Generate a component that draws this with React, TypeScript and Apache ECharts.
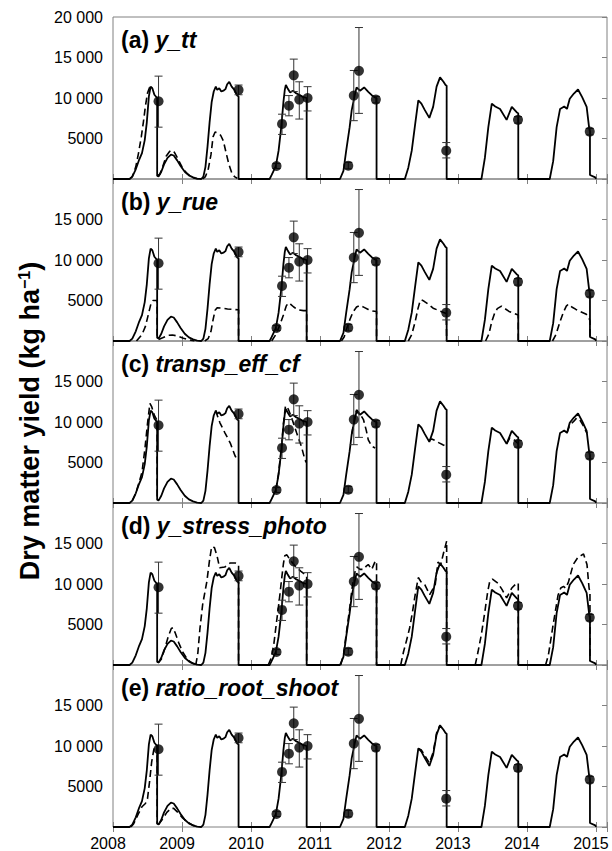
import React, { useEffect, useRef } from 'react';
import * as echarts from 'echarts';

type P = [number, number];

const FONT = '"Liberation Sans", Arial, Helvetica, sans-serif';
const FRAME = '#808080';

const X_MIN = 2008;
const X_MAX = 2015.16;
const Y_MAX = 20000;

const panelLetters = ['(a)', '(b)', '(c)', '(d)', '(e)'];
const panelNames = ['y_tt', 'y_rue', 'transp_eff_cf', 'y_stress_photo', 'ratio_root_shoot'];

// Observations (dry matter yield, kg/ha) with error bar limits
const obsYear = [2008.66, 2009.82, 2010.37, 2010.45, 2010.55, 2010.62, 2010.70, 2010.82, 2011.41, 2011.49, 2011.565, 2011.81, 2012.83, 2013.87, 2014.91];
const obsValue = [9600, 11000, 1600, 6800, 9050, 12800, 9800, 10000, 1650, 10300, 13350, 9800, 3500, 7300, 5850];
const obsLow = [6400, 10400, 1300, 5500, 7800, 10800, 7400, 8400, 1250, 7200, 8100, 9400, 2600, 6900, 5450];
const obsHigh = [12700, 11600, 1900, 8000, 10300, 14800, 12000, 11400, 2050, 13400, 18700, 10200, 4500, 7700, 6250];

// Baseline simulation (solid line)
const baseline: P[] = [
  [2008.00, 0], [2008.24, 0], [2008.28, 300], [2008.33, 1200], [2008.38, 2400], [2008.42, 3200], [2008.46, 4800], [2008.49, 7000], [2008.52, 10200], [2008.545, 11400], [2008.57, 11200], [2008.60, 10400], [2008.64, 10000], [2008.64, 400],
  [2008.66, 300], [2008.70, 900], [2008.74, 1800], [2008.79, 2600], [2008.84, 3000], [2008.88, 2900], [2008.93, 2300], [2008.98, 1600], [2009.04, 900], [2009.10, 450], [2009.16, 200], [2009.22, 50], [2009.28, 0],
  [2009.31, 300], [2009.34, 1500], [2009.37, 4000], [2009.40, 7000], [2009.43, 9500], [2009.46, 10800], [2009.49, 11400], [2009.51, 11000], [2009.54, 11200], [2009.57, 10800], [2009.60, 10900], [2009.63, 11100], [2009.655, 11700], [2009.685, 12000], [2009.72, 11400], [2009.76, 11000], [2009.80, 10300], [2009.82, 10200], [2009.82, 0],
  [2010.27, 0], [2010.30, 500], [2010.36, 1600], [2010.40, 3500], [2010.44, 6500], [2010.47, 9500], [2010.49, 11000], [2010.505, 11600], [2010.53, 11200], [2010.565, 10700], [2010.61, 10900], [2010.65, 10600], [2010.70, 10400], [2010.76, 10100], [2010.807, 10000], [2010.807, 0],
  [2011.29, 0], [2011.34, 1000], [2011.38, 3500], [2011.43, 6400], [2011.46, 8500], [2011.51, 10600], [2011.53, 11300], [2011.58, 10900], [2011.64, 11300], [2011.70, 10750], [2011.75, 10350], [2011.80, 10050], [2011.82, 10000], [2011.82, 0],
  [2012.23, 0], [2012.28, 1400], [2012.33, 3500], [2012.38, 6800], [2012.425, 9700], [2012.47, 9300], [2012.52, 8500], [2012.585, 7550], [2012.64, 8900], [2012.69, 11400], [2012.74, 12550], [2012.79, 12000], [2012.82, 11600], [2012.836, 11500], [2012.836, 0],
  [2013.34, 0], [2013.39, 2600], [2013.44, 6400], [2013.49, 9300], [2013.54, 8950], [2013.61, 8650], [2013.705, 7300], [2013.78, 8900], [2013.85, 8250], [2013.874, 8100], [2013.874, 0],
  [2014.33, 0], [2014.38, 2200], [2014.43, 6400], [2014.48, 8650], [2014.54, 8950], [2014.58, 8650], [2014.62, 9900], [2014.68, 10550], [2014.74, 11050], [2014.80, 10100], [2014.865, 8900], [2014.90, 6400], [2014.913, 5800], [2014.913, 500], [2014.99, 200], [2015.0, 0],
];

// Modified-parameter simulations (dashed), only where they depart from the baseline
const dashedA: P[][] = [
  [[2008.24, 0], [2008.28, 300], [2008.33, 1500], [2008.37, 3200], [2008.41, 5200], [2008.44, 7000], [2008.47, 9000], [2008.50, 10600], [2008.53, 11300], [2008.545, 11400]],
  [[2008.64, 400], [2008.68, 600], [2008.72, 1500], [2008.77, 2800], [2008.82, 3400], [2008.85, 3550], [2008.89, 3300], [2008.94, 2500], [2009.00, 1500], [2009.06, 800], [2009.12, 350], [2009.18, 100], [2009.24, 0]],
  [[2009.30, 0], [2009.34, 300], [2009.38, 1200], [2009.42, 3000], [2009.45, 5200], [2009.48, 5800], [2009.52, 5700], [2009.56, 5400], [2009.60, 4700], [2009.64, 3200], [2009.68, 1800], [2009.72, 800], [2009.76, 300], [2009.80, 100]],
];

const dashedB: P[][] = [
  [[2008.34, 0], [2008.42, 800], [2008.47, 1800], [2008.51, 3200], [2008.55, 4600], [2008.58, 5000], [2008.64, 5000], [2008.64, 300]],
  [[2008.66, 200], [2008.72, 400], [2008.80, 700], [2008.86, 750], [2008.94, 600], [2009.02, 350], [2009.10, 150], [2009.18, 0]],
  [[2009.33, 0], [2009.38, 300], [2009.42, 1200], [2009.45, 2600], [2009.48, 3800], [2009.51, 4100], [2009.58, 4050], [2009.66, 3950], [2009.74, 3900], [2009.82, 3850], [2009.82, 0]],
  [[2010.30, 0], [2010.36, 800], [2010.41, 1800], [2010.47, 3200], [2010.51, 4300], [2010.54, 4700], [2010.58, 4500], [2010.62, 4200], [2010.68, 3850], [2010.76, 3750], [2010.807, 3750], [2010.807, 0]],
  [[2011.31, 0], [2011.35, 500], [2011.39, 1600], [2011.44, 2800], [2011.48, 3600], [2011.53, 4200], [2011.58, 4400], [2011.64, 4150], [2011.70, 3900], [2011.76, 3700], [2011.82, 3650], [2011.82, 0]],
  [[2012.28, 0], [2012.33, 800], [2012.38, 2400], [2012.42, 4000], [2012.45, 4900], [2012.47, 5100], [2012.51, 4900], [2012.56, 4600], [2012.64, 4050], [2012.74, 3700], [2012.83, 3400], [2012.836, 0]],
  [[2013.40, 0], [2013.45, 900], [2013.49, 2400], [2013.53, 3400], [2013.57, 4000], [2013.63, 4300], [2013.68, 4000], [2013.74, 3650], [2013.80, 3450], [2013.874, 3200], [2013.874, 0]],
  [[2014.37, 0], [2014.42, 800], [2014.48, 2400], [2014.53, 3600], [2014.57, 4300], [2014.60, 4550], [2014.65, 4200], [2014.71, 3900], [2014.77, 3650], [2014.86, 3300], [2014.90, 2800], [2014.913, 2500], [2014.913, 300]],
];

const dashedC: P[][] = [
  [[2008.28, 300], [2008.33, 1200], [2008.38, 2600], [2008.42, 3800], [2008.46, 6500], [2008.50, 9800], [2008.535, 12300], [2008.56, 11900], [2008.60, 10800], [2008.64, 10200], [2008.64, 400]],
  [[2009.49, 11400], [2009.52, 10600], [2009.55, 9900], [2009.62, 8700], [2009.70, 7400], [2009.77, 5800], [2009.80, 5400]],
  [[2010.36, 1600], [2010.40, 3700], [2010.44, 6800], [2010.47, 9800], [2010.50, 12000], [2010.54, 11600], [2010.59, 10500], [2010.66, 8700], [2010.73, 7000], [2010.78, 5400], [2010.80, 5000]],
  [[2011.46, 8500], [2011.51, 10800], [2011.53, 11500], [2011.58, 11000], [2011.63, 10300], [2011.67, 9000], [2011.70, 7800], [2011.75, 7000], [2011.80, 6800]],
  [[2012.57, 7700], [2012.62, 7900], [2012.66, 7750], [2012.72, 7450], [2012.78, 7200], [2012.83, 7000]],
  [[2013.705, 7300], [2013.75, 8000], [2013.80, 7900], [2013.85, 7500], [2013.874, 7300]],
  [[2014.58, 8650], [2014.62, 9600], [2014.68, 10100], [2014.72, 10500], [2014.77, 10200], [2014.82, 9500], [2014.87, 8600]],
];

const dashedD: P[][] = [
  [[2008.64, 400], [2008.66, 300], [2008.70, 700], [2008.75, 2000], [2008.80, 3500], [2008.845, 4500], [2008.87, 4600], [2008.90, 4000], [2008.95, 2800], [2009.01, 1600], [2009.07, 800], [2009.13, 300], [2009.20, 50], [2009.24, 0]],
  [[2009.20, 0], [2009.23, 1500], [2009.26, 4500], [2009.30, 7500], [2009.36, 10300], [2009.40, 13000], [2009.43, 14600], [2009.47, 14500], [2009.51, 13400], [2009.545, 12000], [2009.62, 12100], [2009.70, 12600], [2009.77, 12600], [2009.82, 12400], [2009.82, 0]],
  [[2010.25, 0], [2010.29, 800], [2010.33, 2500], [2010.37, 5300], [2010.41, 8000], [2010.445, 10700], [2010.47, 12500], [2010.49, 13500], [2010.52, 13600], [2010.565, 13000], [2010.64, 12200], [2010.72, 11600], [2010.807, 11000], [2010.807, 0]],
  [[2011.30, 0], [2011.34, 1200], [2011.38, 3800], [2011.43, 7000], [2011.47, 9800], [2011.51, 11600], [2011.535, 12100], [2011.58, 11800], [2011.63, 11800], [2011.67, 12200], [2011.70, 12400], [2011.75, 11800], [2011.80, 12800], [2011.82, 12800], [2011.82, 0]],
  [[2012.17, 0], [2012.21, 1600], [2012.26, 3200], [2012.30, 4600], [2012.34, 6500], [2012.38, 8700], [2012.425, 10800], [2012.47, 10200], [2012.52, 9900], [2012.59, 8700], [2012.67, 9900], [2012.71, 12700], [2012.75, 12400], [2012.79, 13800], [2012.836, 15300], [2012.836, 0]],
  [[2013.25, 0], [2013.29, 1600], [2013.34, 3800], [2013.39, 6600], [2013.43, 9000], [2013.46, 10300], [2013.50, 10600], [2013.58, 10100], [2013.64, 9300], [2013.705, 8300], [2013.78, 9500], [2013.85, 10100], [2013.874, 10100], [2013.874, 0]],
  [[2014.27, 0], [2014.31, 1200], [2014.38, 5000], [2014.45, 8600], [2014.49, 9500], [2014.53, 9700], [2014.56, 9500], [2014.60, 10200], [2014.67, 12400], [2014.74, 13300], [2014.78, 13500], [2014.82, 13700], [2014.87, 12400], [2014.90, 9500], [2014.913, 9000], [2014.913, 500]],
];

const dashedE: P[][] = [
  [[2008.26, 0], [2008.30, 400], [2008.36, 1500], [2008.42, 2500], [2008.47, 2900], [2008.50, 3500], [2008.53, 5600], [2008.56, 8000], [2008.59, 9500], [2008.62, 10100], [2008.64, 10100], [2008.64, 400]],
  [[2008.66, 300], [2008.72, 1000], [2008.78, 1800], [2008.84, 2300], [2008.88, 2300], [2008.94, 1800], [2009.00, 1200], [2009.08, 600], [2009.16, 200], [2009.24, 0]],
  [[2012.425, 9700], [2012.47, 9500], [2012.52, 8800], [2012.585, 7900], [2012.64, 9200], [2012.69, 11600], [2012.74, 12600]],
];

const dashedPanels = [dashedA, dashedB, dashedC, dashedD, dashedE];

const GRID_LEFT = 113;
const GRID_RIGHT = 5;
const GRID_TOP = 17;
const GRID_H = 162;

function fmtY(v: number, showMax: boolean): string {
  if (v === 0) return '';
  if (v >= Y_MAX && !showMax) return '';
  if (v >= 10000) {
    const th = Math.floor(v / 1000);
    const rest = String(Math.round(v % 1000)).padStart(3, '0');
    return th + ' ' + rest;
  }
  return String(v);
}

function fmtX(v: number): string {
  return Math.abs(v - Math.round(v)) < 1e-6 ? String(Math.round(v)) : '';
}

export default function App() {
  const ref = useRef<HTMLDivElement>(null);

  useEffect(() => {
    if (!ref.current) return;
    const chart = echarts.init(ref.current, null, { renderer: 'svg' });

    const grids: any[] = [];
    const xAxes: any[] = [];
    const yAxes: any[] = [];
    const series: any[] = [];
    const graphics: any[] = [];

    for (let i = 0; i < 5; i++) {
      const top = GRID_TOP + GRID_H * i;
      grids.push({
        left: GRID_LEFT, right: GRID_RIGHT, top, height: GRID_H,
        containLabel: false, outerBoundsMode: 'none',
        show: true, borderColor: FRAME, borderWidth: 1, backgroundColor: 'transparent',
      });
      const tick = { show: true, inside: true, length: 5, lineStyle: { color: FRAME, width: 1 } };
      xAxes.push({
        gridIndex: i, type: 'value', min: X_MIN, max: X_MAX, interval: 1, position: 'bottom',
        axisLine: { show: false }, axisTick: tick, splitLine: { show: false },
        axisLabel: {
          show: i === 4, formatter: fmtX, fontSize: 16, color: '#000', margin: 8,
          fontFamily: FONT, hideOverlap: false, padding: [0, 10, 0, 0],
        },
      });
      xAxes.push({
        gridIndex: i, type: 'value', min: X_MIN, max: X_MAX, interval: 1, position: 'top',
        axisLine: { show: false }, axisTick: tick, splitLine: { show: false }, axisLabel: { show: false },
      });
      yAxes.push({
        gridIndex: i, type: 'value', min: 0, max: Y_MAX, interval: 5000, position: 'left',
        axisLine: { show: false }, axisTick: { show: false }, splitLine: { show: false },
        axisLabel: { formatter: (v: number) => fmtY(v, i === 0), fontSize: 16, color: '#000', margin: 10, fontFamily: FONT },
      });
      yAxes.push({
        gridIndex: i, type: 'value', min: 0, max: Y_MAX, interval: 5000, position: 'right',
        axisLine: { show: false }, axisTick: tick, splitLine: { show: false }, axisLabel: { show: false },
      });

      const xi = 2 * i;
      const yi = 2 * i;

      dashedPanels[i].forEach((seg) => {
        series.push({
          type: 'line', xAxisIndex: xi, yAxisIndex: yi, data: seg,
          symbol: 'none', showSymbol: false, silent: true, z: 2,
          lineStyle: { color: '#000', width: 1.6, type: [7, 4] },
        });
      });

      series.push({
        type: 'line', xAxisIndex: xi, yAxisIndex: yi, data: baseline,
        symbol: 'none', showSymbol: false, silent: true, z: 3,
        lineStyle: { color: '#000', width: 1.8, type: 'solid' },
      });

      series.push({
        type: 'custom', xAxisIndex: xi, yAxisIndex: yi, z: 4, silent: true,
        data: obsYear.map((y, k) => [y, obsLow[k], obsHigh[k]]),
        encode: { x: 0, y: [1, 2] },
        renderItem: (_params: any, api: any) => {
          const x = api.value(0);
          const p1 = api.coord([x, api.value(1)]);
          const p2 = api.coord([x, api.value(2)]);
          const w = 4;
          const style = { stroke: '#333', lineWidth: 1, fill: 'none' };
          return {
            type: 'group',
            children: [
              { type: 'line', shape: { x1: p1[0], y1: p1[1], x2: p2[0], y2: p2[1] }, style },
              { type: 'line', shape: { x1: p1[0] - w, y1: p1[1], x2: p1[0] + w, y2: p1[1] }, style },
              { type: 'line', shape: { x1: p2[0] - w, y1: p2[1], x2: p2[0] + w, y2: p2[1] }, style },
            ],
          };
        },
      });

      series.push({
        type: 'scatter', xAxisIndex: xi, yAxisIndex: yi, z: 5, silent: true,
        data: obsYear.map((y, k) => [y, obsValue[k]]),
        symbol: 'circle', symbolSize: 10,
        itemStyle: { color: '#000' },
      });

      graphics.push({
        type: 'text', left: 121, top: top + 11, z: 10,
        style: {
          text: '{p|' + panelLetters[i] + '\u00a0}{n|' + panelNames[i] + '}',
          rich: {
            p: { fontSize: 23, fontWeight: 'bold', fontFamily: FONT, fill: '#000' },
            n: { fontSize: 23, fontWeight: 'bold', fontStyle: 'italic', fontFamily: FONT, fill: '#000' },
          },
        },
      });
    }

    graphics.push({
      type: 'text', x: 30, y: 421, rotation: Math.PI / 2, z: 10,
      style: {
        text: '{a|Dry matter yield (kg ha}{s|\u22121}{a|)}',
        textAlign: 'center', textVerticalAlign: 'middle',
        rich: {
          a: { fontSize: 27, fontWeight: 'bold', fontFamily: FONT, fill: '#000' },
          s: { fontSize: 16, fontWeight: 'bold', fontFamily: FONT, fill: '#000', verticalAlign: 'top' },
        },
      },
    });

    chart.setOption({
      animation: false,
      backgroundColor: '#fff',
      grid: grids,
      xAxis: xAxes,
      yAxis: yAxes,
      series,
      graphic: graphics,
    });

    return () => chart.dispose();
  }, []);

  return (
    <div
      ref={ref}
      style={{ position: 'absolute', left: 0, top: 0, width: 612, height: 851, background: '#fff' }}
    />
  );
}
